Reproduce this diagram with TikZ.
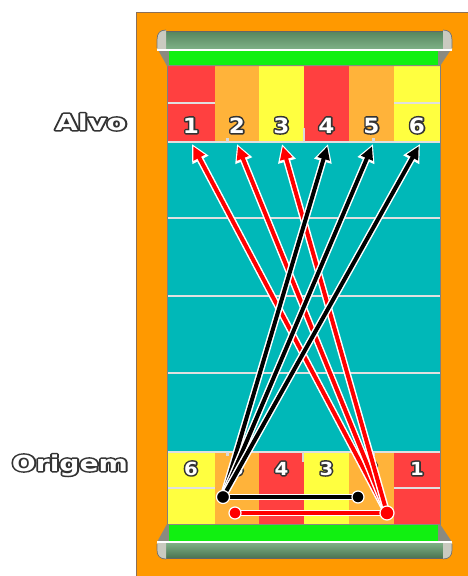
\documentclass[tikz,border=0pt]{standalone}
\usepackage{fontspec}
\setmainfont{DejaVu Sans}
\usetikzlibrary{arrows.meta,calc}
\definecolor{board}{HTML}{FF9900}
\definecolor{boardedge}{HTML}{8C6F55}
\definecolor{cred}{HTML}{FF4040}
\definecolor{corange}{HTML}{FFB33A}
\definecolor{cyel}{HTML}{FFFF40}
\definecolor{cteal}{HTML}{00B8B8}
\definecolor{cgreen}{HTML}{11F011}
\definecolor{gutglass}{HTML}{6BA674}
\definecolor{gutside}{HTML}{8A8A80}
\definecolor{gutcap}{HTML}{CACAC0}
\definecolor{colsep}{HTML}{8C7050}
\definecolor{arred}{HTML}{FF0000}
\tikzset{
  otxt/.style={font=\bfseries\fontsize{22}{22}\selectfont, inner sep=0pt, anchor=base, text=white},
  dtxt/.style={font=\bfseries\fontsize{21}{21}\selectfont, inner sep=0pt, anchor=base, text=white},
  btxt/.style={font=\bfseries\fontsize{18}{18}\selectfont, inner sep=0pt, anchor=base, text=white},
  sepline/.style={draw=white!88!black, line width=1.8pt},
  dotnode/.style={circle, draw=white, line width=1.2pt, inner sep=0pt, minimum size=#1},
}
% outlined text: dark stroke underneath, white fill on top
\newcommand{\outl}[1]{\rlap{\special{pdf:literal direct 1 Tr 3 w 1 j 0.2 0.2 0.2 RG}#1\special{pdf:literal direct 0 Tr}}#1}
\newcommand{\outarrow}[3]{%
  \draw[white, line width=7pt, -{Triangle[length=18pt,width=17pt]}] (#2) -- (#3);
  \draw[#1, line width=4pt, shorten >=2.5pt, -{Triangle[length=13pt,width=12pt]}] (#2) -- (#3);
}
\begin{document}
\begin{tikzpicture}[x=1pt,y=-1pt]
\useasboundingbox (0,0) rectangle (467,576);
\fill[white] (0,0) rectangle (467,576);
% board
\fill[board] (136,12) rectangle (470,580);
\draw[boardedge, line width=1pt] (136,580) -- (136,12) -- (470,12);
% field
\fill[cteal] (167,142) rectangle (440,452);
\foreach \xa/\xb/\c in {167/215/cred,215/259/corange,259/304/cyel,304/349/cred,349/394/corange,394/440/cyel}{
  \fill[\c] (\xa,65) rectangle (\xb,142);
  \draw[colsep, line width=0.6pt] (\xb,65) -- (\xb,142);
}
\foreach \xa/\xb/\c in {167/215/cyel,215/259/corange,259/304/cred,304/349/cyel,349/394/corange,394/440/cred}{
  \fill[\c] (\xa,452) rectangle (\xb,525);
  \draw[colsep, line width=0.6pt] (\xb,452) -- (\xb,525);
}
% separators
\draw[sepline] (167,103) -- (215,103);
\draw[sepline] (394,103) -- (440,103);
\draw[sepline] (167,488) -- (215,488);
\draw[sepline] (394,488) -- (440,488);
\foreach \yy in {142,218,296,373,452}{
  \draw[sepline] (167,\yy) -- (440,\yy);
}
\draw[white!85!black, line width=1.4pt] (304,128) -- (304,142);
\draw[white!85!black, line width=1.4pt] (303,452) -- (303,462);
\foreach \xx in {227,373}{
  \fill[white!85!black] (\xx-1.5,138) rectangle (\xx+1.5,142);
  \fill[white!85!black] (\xx-1.5,452) rectangle (\xx+1.5,456);
}
\draw[gray, line width=0.8pt] (167,65) rectangle (440,525);
% top gutter
\fill[gutside] (157,48) -- (167,66) -- (440,66) -- (452,48) -- cycle;
\fill[cgreen] (169,50) rectangle (438,65);
\shade[top color=gutglass!80!black, bottom color=gutglass!85!white] (163,31) rectangle (446,50);
\draw[black!60, line width=0.8pt] (163,31) -- (446,31);
\fill[gutcap] (157,50) -- (157,40) .. controls (157,33) and (160,30) .. (166,30) -- (166,50) -- cycle;
\fill[gutcap] (452,50) -- (452,40) .. controls (452,33) and (449,30) .. (443,30) -- (443,50) -- cycle;
\draw[black!55, line width=0.7pt] (157,48) -- (157,40) .. controls (157,33) and (160,30) .. (166,30);
\draw[black!55, line width=0.7pt] (452,48) -- (452,40) .. controls (452,33) and (449,30) .. (443,30);
\draw[white, line width=1.3pt] (157,50) -- (452,50);
% bottom gutter
\fill[gutside] (167,524) -- (157,542) -- (452,542) -- (440,524) -- cycle;
\fill[cgreen] (169,525) rectangle (438,542);
\shade[top color=gutglass!85!white, bottom color=gutglass!70!black] (163,542) rectangle (446,558);
\draw[black!60, line width=0.8pt] (163,558) -- (446,558);
\fill[gutcap] (157,542) -- (157,550) .. controls (157,556) and (160,559) .. (166,559) -- (166,542) -- cycle;
\fill[gutcap] (452,542) -- (452,550) .. controls (452,556) and (449,559) .. (443,559) -- (443,542) -- cycle;
\draw[black!55, line width=0.7pt] (157,544) -- (157,550) .. controls (157,556) and (160,559) .. (166,559);
\draw[black!55, line width=0.7pt] (452,544) -- (452,550) .. controls (452,556) and (449,559) .. (443,559);
\draw[white, line width=1.3pt] (157,542) -- (452,542);
% labels
\node[otxt] (alvo) at (91,130) {\outl{\scalebox{1.32}[1]{Alvo}}};
\node[otxt] (origem) at (70,471) {\outl{\scalebox{1.28}[1]{Origem}}};
% top digits
\foreach \n/\xx in {1/191,2/237,3/281.5,4/326.5,5/371.5,6/417}{
  \node[dtxt] (t\n) at (\xx,133) {\outl{\scalebox{1.1}[1]{\n}}};
}
% bottom digits
\foreach \n/\xx in {6/191,5/237,4/281.5,3/326.5,2/371.5,1/417}{
  \node[btxt] (o\n) at (\xx,475) {\outl{\scalebox{1.1}[1]{\n}}};
}
% arrow target points
\coordinate (a1) at (192,144);
\coordinate (a2) at (237,144);
\coordinate (a3) at (282,144);
\coordinate (a4) at (328,144);
\coordinate (a5) at (373,144);
\coordinate (a6) at (420,144);
% origin points
\coordinate (bs) at (223,497);
\coordinate (be) at (358,497);
\coordinate (rs) at (387,513);
\coordinate (re) at (235,513);
% horizontal connectors
\draw[white, line width=6.5pt] (bs) -- (be);
\draw[black, line width=3.6pt] (bs) -- (be);
\draw[white, line width=6.5pt] (re) -- (rs);
\draw[arred, line width=3.6pt] (re) -- (rs);
% arrows
\outarrow{arred}{rs}{a1}
\outarrow{arred}{rs}{a2}
\outarrow{arred}{rs}{a3}
\outarrow{black}{bs}{a4}
\outarrow{black}{bs}{a5}
\outarrow{black}{bs}{a6}
% dots
\node[dotnode=12pt, fill=black] (bed) at (be) {};
\node[dotnode=13pt, fill=black] (bsd) at (bs) {};
\node[dotnode=12pt, fill=arred] (red) at (re) {};
\node[dotnode=14pt, fill=arred] (rsd) at (rs) {};
\end{tikzpicture}
\end{document}
